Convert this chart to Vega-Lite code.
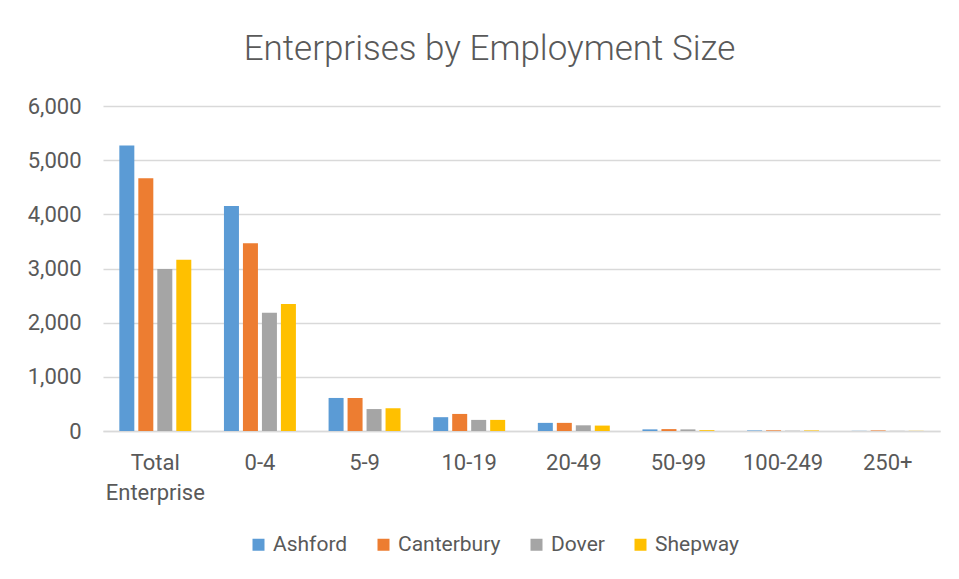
{
  "$schema": "https://vega.github.io/schema/vega-lite/v6.json",
  "width": 837,
  "height": 325,
  "autosize": {"type": "none"},
  "padding": {"left": 103, "top": 106, "right": 19, "bottom": 148},
  "background": "white",
  "title": {
    "text": "Enterprises by Employment Size",
    "anchor": "middle",
    "frame": "group",
    "dx": -32,
    "offset": 28,
    "font": "Roboto",
    "fontSize": 35,
    "fontWeight": 300,
    "color": "#595959"
  },
  "data": {
    "values": [
      {"size": "Total Enterprise", "district": "Ashford", "count": 5270},
      {"size": "Total Enterprise", "district": "Canterbury", "count": 4665},
      {"size": "Total Enterprise", "district": "Dover", "count": 2990},
      {"size": "Total Enterprise", "district": "Shepway", "count": 3160},
      {"size": "0-4", "district": "Ashford", "count": 4155},
      {"size": "0-4", "district": "Canterbury", "count": 3465},
      {"size": "0-4", "district": "Dover", "count": 2185},
      {"size": "0-4", "district": "Shepway", "count": 2345},
      {"size": "5-9", "district": "Ashford", "count": 610},
      {"size": "5-9", "district": "Canterbury", "count": 610},
      {"size": "5-9", "district": "Dover", "count": 405},
      {"size": "5-9", "district": "Shepway", "count": 420},
      {"size": "10-19", "district": "Ashford", "count": 255},
      {"size": "10-19", "district": "Canterbury", "count": 315},
      {"size": "10-19", "district": "Dover", "count": 205},
      {"size": "10-19", "district": "Shepway", "count": 205},
      {"size": "20-49", "district": "Ashford", "count": 150},
      {"size": "20-49", "district": "Canterbury", "count": 150},
      {"size": "20-49", "district": "Dover", "count": 105},
      {"size": "20-49", "district": "Shepway", "count": 100},
      {"size": "50-99", "district": "Ashford", "count": 30},
      {"size": "50-99", "district": "Canterbury", "count": 35},
      {"size": "50-99", "district": "Dover", "count": 30},
      {"size": "50-99", "district": "Shepway", "count": 15},
      {"size": "100-249", "district": "Ashford", "count": 10},
      {"size": "100-249", "district": "Canterbury", "count": 12},
      {"size": "100-249", "district": "Dover", "count": 5},
      {"size": "100-249", "district": "Shepway", "count": 10},
      {"size": "250+", "district": "Ashford", "count": 3},
      {"size": "250+", "district": "Canterbury", "count": 10},
      {"size": "250+", "district": "Dover", "count": 3},
      {"size": "250+", "district": "Shepway", "count": 3}
    ]
  },
  "mark": {"type": "bar"},
  "encoding": {
    "x": {
      "field": "size",
      "type": "nominal",
      "sort": null,
      "scale": {"paddingInner": 0, "paddingOuter": 0},
      "axis": {
        "title": null,
        "labelAngle": 0,
        "labelFont": "Roboto",
        "labelFontSize": 22,
        "labelColor": "#595959",
        "labelPadding": 21,
        "labelBaseline": "top",
        "labelLineHeight": 30,
        "labelExpr": "split(datum.label, ' ')",
        "ticks": false,
        "domainColor": "#d9d9d9",
        "domainWidth": 1.5,
        "grid": false
      }
    },
    "xOffset": {
      "field": "district",
      "type": "nominal",
      "sort": ["Ashford", "Canterbury", "Dover", "Shepway"],
      "scale": {"paddingInner": 0.21, "paddingOuter": 0.86}
    },
    "y": {
      "field": "count",
      "type": "quantitative",
      "scale": {"domain": [0, 6000], "nice": false},
      "axis": {
        "title": null,
        "values": [0, 1000, 2000, 3000, 4000, 5000, 6000],
        "format": ",d",
        "labelFont": "Roboto",
        "labelFontSize": 22,
        "labelColor": "#595959",
        "labelPadding": 22,
        "ticks": false,
        "domain": false,
        "gridColor": "#d9d9d9",
        "gridWidth": 1.5
      }
    },
    "color": {
      "field": "district",
      "type": "nominal",
      "sort": ["Ashford", "Canterbury", "Dover", "Shepway"],
      "scale": {
        "domain": ["Ashford", "Canterbury", "Dover", "Shepway"],
        "range": ["#5B9BD5", "#ED7D31", "#A5A5A5", "#FFC000"]
      },
      "legend": {
        "title": null,
        "orient": "none",
        "legendX": 145,
        "legendY": 428,
        "direction": "horizontal",
        "symbolType": "square",
        "symbolSize": 144,
        "symbolStrokeWidth": 0,
        "labelFont": "Roboto",
        "labelFontSize": 21,
        "labelColor": "#595959",
        "labelOffset": 4,
        "columnPadding": 25
      }
    }
  },
  "config": {
    "view": {"stroke": null}
  }
}
